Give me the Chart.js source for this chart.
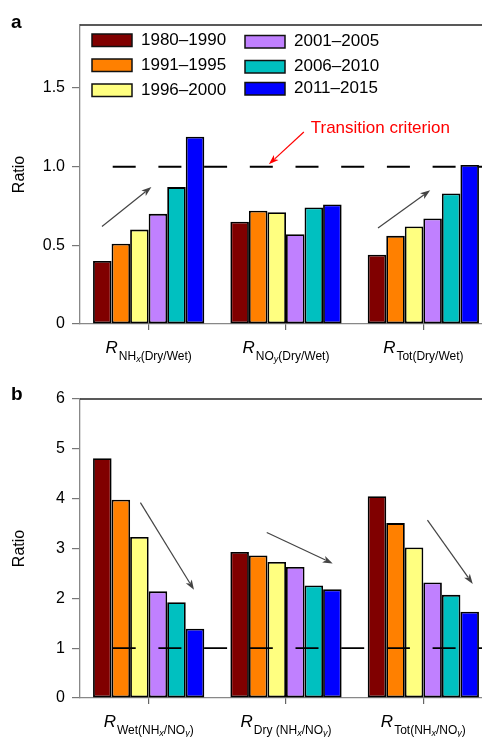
<!DOCTYPE html>
<html><head><meta charset="utf-8">
<script src="https://cdn.jsdelivr.net/npm/chart.js@4"></script>
<style>
html,body{margin:0;padding:0;background:#fff;overflow:hidden;width:482px;height:737px}
.p{position:absolute;left:0}
.lab{position:absolute;left:11px;font:bold 19px "Liberation Sans",Arial,sans-serif;line-height:19px}
</style></head><body>
<div class="p" style="top:0"><canvas id="ca" width="500" height="380"></canvas></div>
<div class="p" style="top:380px"><canvas id="cb" width="500" height="357"></canvas></div>
<div class="lab" style="top:12px">a</div>
<div class="lab" style="top:384px">b</div>
<script>
// ---- data ----
const categoriesA = ['R NHx(Dry/Wet)', 'R NOy(Dry/Wet)', 'R Tot(Dry/Wet)'];
const categoriesB = ['R Wet(NHx/NOy)', 'R Dry (NHx/NOy)', 'R Tot(NHx/NOy)'];
const periods = ['1980–1990', '1991–1995', '1996–2000', '2001–2005', '2006–2010', '2011–2015'];
const periodColors = ['#800000', '#FF8000', '#FFFF80', '#C080FF', '#00C0C0', '#0000FF'];

const ratioA_1980_1990 = [0.40, 0.65, 0.44];
const ratioA_1991_1995 = [0.51, 0.72, 0.56];
const ratioA_1996_2000 = [0.60, 0.71, 0.62];
const ratioA_2001_2005 = [0.70, 0.57, 0.67];
const ratioA_2006_2010 = [0.87, 0.74, 0.83];
const ratioA_2011_2015 = [1.19, 0.76, 1.01];

const ratioB_1980_1990 = [4.81, 2.93, 4.05];
const ratioB_1991_1995 = [3.98, 2.86, 3.51];
const ratioB_1996_2000 = [3.23, 2.73, 3.02];
const ratioB_2001_2005 = [2.14, 2.63, 2.32];
const ratioB_2006_2010 = [1.92, 2.26, 2.07];
const ratioB_2011_2015 = [1.39, 2.18, 1.73];

const ticksA = [0, 0.5, 1.0, 1.5];
const tickLabelsA = ['0', '0.5', '1.0', '1.5'];
const ticksB = [0, 1, 2, 3, 4, 5, 6];
const tickLabelsB = ['0', '1', '2', '3', '4', '5', '6'];

const referenceA = 1.0;
const referenceB = 1;
const criterionText = 'Transition criterion';
// annotations in data units: [category-x1, y1, category-x2, y2]
const criterionArrow = [1.13, 1.22, 0.875, 1.015];
const criterionTextPos = [1.18, 1.245];
const trendArrowsA = [[-0.34, 0.62, 0.02, 0.87], [1.67, 0.61, 2.05, 0.85]];
const trendArrowsB = [[-0.06, 3.92, 0.33, 2.17], [0.86, 3.32, 1.34, 2.70], [2.03, 3.57, 2.36, 2.29]];

const xLabelPartsA = [
  [['R','m'],['NH','s'],['x','ss'],['(Dry/Wet)','s']],
  [['R','m'],['NO','s'],['y','ss'],['(Dry/Wet)','s']],
  [['R','m'],['Tot(Dry/Wet)','s']]
];
const xLabelPartsB = [
  [['R','m'],['Wet(NH','s'],['x','ss'],['/NO','s'],['y','ss'],[')','s']],
  [['R','m'],['Dry (NH','s'],['x','ss'],['/NO','s'],['y','ss'],[')','s']],
  [['R','m'],['Tot(NH','s'],['x','ss'],['/NO','s'],['y','ss'],[')','s']]
];

// ---- drawing ----
const FF = '"Liberation Sans", Arial, sans-serif';
Chart.defaults.font.family = FF;

function makeDatasets(series) {
  return series.map((d, i) => ({
    label: periods[i], data: d,
    backgroundColor: periodColors[i], borderColor: '#000', borderWidth: 1.8,
    borderSkipped: false, categoryPercentage: 0.81, barPercentage: 1.0
  }));
}

function catPx(xs, v) {
  const p0 = xs.getPixelForValue(0), p1 = xs.getPixelForValue(1);
  return p0 + v * (p1 - p0);
}

function drawArrow(ctx, x1, y1, x2, y2, color, lw, hl, hw) {
  const ang = Math.atan2(y2 - y1, x2 - x1);
  ctx.save();
  ctx.strokeStyle = color; ctx.fillStyle = color; ctx.lineWidth = lw;
  ctx.setLineDash([]);
  ctx.beginPath();
  ctx.moveTo(x1, y1);
  ctx.lineTo(x2 - Math.cos(ang) * hl * 0.8, y2 - Math.sin(ang) * hl * 0.8);
  ctx.stroke();
  ctx.beginPath();
  ctx.moveTo(x2, y2);
  ctx.lineTo(x2 - Math.cos(ang) * hl + Math.sin(ang) * hw / 2, y2 - Math.sin(ang) * hl - Math.cos(ang) * hw / 2);
  ctx.lineTo(x2 - Math.cos(ang) * hl * 0.75, y2 - Math.sin(ang) * hl * 0.75);
  ctx.lineTo(x2 - Math.cos(ang) * hl - Math.sin(ang) * hw / 2, y2 - Math.sin(ang) * hl + Math.cos(ang) * hw / 2);
  ctx.closePath();
  ctx.fill();
  ctx.restore();
}

function makeDeco(opts) {
  return {
    id: 'deco',
    afterDatasetsDraw(chart) {
      const ctx = chart.ctx, xs = chart.scales.x, ys = chart.scales.y, ca = chart.chartArea;
      const yr = ys.getPixelForValue(opts.reference);
      ctx.save();
      ctx.strokeStyle = '#000'; ctx.lineWidth = opts.refWidth;
      ctx.setLineDash([23, 22.7]); ctx.lineDashOffset = 23;
      ctx.beginPath(); ctx.moveTo(ca.left + 10, yr); ctx.lineTo(ca.right, yr); ctx.stroke();
      ctx.restore();
      opts.arrows.forEach(a => drawArrow(ctx, catPx(xs, a[0]), ys.getPixelForValue(a[1]),
        catPx(xs, a[2]), ys.getPixelForValue(a[3]), '#444', 1.2, 10, 7));
      if (opts.criterion) {
        const c = criterionArrow;
        drawArrow(ctx, catPx(xs, c[0]), ys.getPixelForValue(c[1]), catPx(xs, c[2]), ys.getPixelForValue(c[3]), '#FF0000', 1.2, 10, 7);
        ctx.save();
        ctx.fillStyle = '#FF0000'; ctx.font = '17px ' + FF; ctx.textBaseline = 'middle'; ctx.textAlign = 'left';
        ctx.fillText(criterionText, catPx(xs, criterionTextPos[0]), ys.getPixelForValue(criterionTextPos[1]));
        ctx.restore();
      }
    },
    afterDraw(chart) {
      const ctx = chart.ctx, xs = chart.scales.x, ca = chart.chartArea;
      ctx.save();
      ctx.strokeStyle = '#222'; ctx.lineWidth = 1.5;
      ctx.beginPath(); ctx.moveTo(ca.left, ca.top); ctx.lineTo(ca.right, ca.top); ctx.stroke();
      ctx.restore();
      const fonts = { m: 'italic 17px ' + FF, s: '12px ' + FF, ss: 'italic 9px ' + FF };
      const dy = { m: 29, s: 36, ss: 38 };
      const base = xs.top;
      ctx.save();
      ctx.fillStyle = '#000'; ctx.textBaseline = 'alphabetic'; ctx.textAlign = 'left';
      opts.xParts.forEach((parts, i) => {
        let w = 0;
        parts.forEach(p => { ctx.font = fonts[p[1]]; w += ctx.measureText(p[0]).width + (p[1] === 'm' ? 1 : 0); });
        let x = xs.getPixelForValue(i) - w / 2;
        parts.forEach(p => {
          ctx.font = fonts[p[1]];
          ctx.fillText(p[0], x, base + dy[p[1]]);
          x += ctx.measureText(p[0]).width + (p[1] === 'm' ? 1 : 0);
        });
      });
      ctx.restore();
      if (opts.legend) {
        ctx.save();
        ctx.font = '17px ' + FF; ctx.textBaseline = 'middle'; ctx.textAlign = 'left';
        chart.data.datasets.forEach((ds, i) => {
          const col = Math.floor(i / 3), row = i % 3;
          const bx = ca.left + 12 + col * 153, by = ca.top + 15 + row * 25 + (col ? [1.5, 1.5, -1.5][row] : 0);
          ctx.fillStyle = ds.backgroundColor;
          ctx.fillRect(bx, by - 6, 40, 12.5);
          ctx.strokeStyle = '#111'; ctx.lineWidth = 1.5;
          ctx.strokeRect(bx, by - 6, 40, 12.5);
          ctx.fillStyle = '#000';
          ctx.fillText(ds.label, bx + 49, by);
        });
        ctx.restore();
      }
    }
  };
}

function makeChart(id, cats, series, yMax, ticks, tickLabels, xHeight, padTop, deco) {
  return new Chart(document.getElementById(id), {
    type: 'bar',
    data: { labels: cats, datasets: makeDatasets(series) },
    options: {
      responsive: false, animation: false, devicePixelRatio: 1,
      layout: { padding: { top: padTop, right: 8, left: 0, bottom: 0 } },
      plugins: { legend: { display: false }, tooltip: { enabled: false } },
      scales: {
        x: {
          type: 'category', offset: true,
          grid: { offset: false, drawOnChartArea: false, drawTicks: true, tickLength: 6, color: '#666', lineWidth: 1.2 },
          border: { color: '#888', width: 1.3 },
          ticks: { color: 'rgba(0,0,0,0)', font: { size: 12 } },
          afterFit: s => { s.height = xHeight; }
        },
        y: {
          min: 0, max: yMax,
          afterBuildTicks: s => { s.ticks = ticks.map(v => ({ value: v })); },
          ticks: { color: '#000', font: { size: 16 }, padding: 7,
            callback: v => tickLabels[ticks.indexOf(v)] },
          grid: { drawOnChartArea: false, drawTicks: true, tickLength: 8, color: '#777', lineWidth: 1.2 },
          border: { color: '#888', width: 1.3 },
          title: { display: true, text: 'Ratio', color: '#000', font: { size: 16 }, padding: { top: 10, bottom: 0 } },
          afterFit: s => { s.width = 80; }
        }
      }
    },
    plugins: [deco]
  });
}

makeChart('ca', categoriesA,
  [ratioA_1980_1990, ratioA_1991_1995, ratioA_1996_2000, ratioA_2001_2005, ratioA_2006_2010, ratioA_2011_2015],
  1.9, ticksA, tickLabelsA, 56, 25,
  makeDeco({ reference: referenceA, refWidth: 2, arrows: trendArrowsA, criterion: true, legend: true, xParts: xLabelPartsA }));

makeChart('cb', categoriesB,
  [ratioB_1980_1990, ratioB_1991_1995, ratioB_1996_2000, ratioB_2001_2005, ratioB_2006_2010, ratioB_2011_2015],
  6, ticksB, tickLabelsB, 39, 19,
  makeDeco({ reference: referenceB, refWidth: 1.6, arrows: trendArrowsB, criterion: false, legend: false, xParts: xLabelPartsB }));
</script>
</body></html>
